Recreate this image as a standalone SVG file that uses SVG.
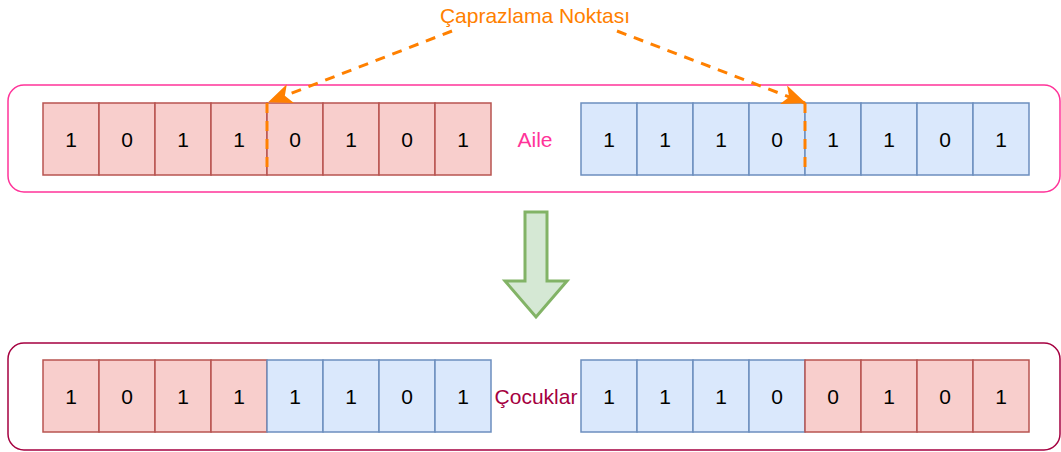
<svg xmlns="http://www.w3.org/2000/svg" width="1061" height="452" viewBox="0 0 1061 452">
<style>
text{font-family:"Liberation Sans",Arial,sans-serif;font-size:21px;text-anchor:middle}
.r{fill:#f8cecc;stroke:#b85450;stroke-width:1.5}
.b{fill:#dae8fc;stroke:#6c8ebf;stroke-width:1.5}
.d{fill:#000}
.o{fill:none;stroke:#FF8000;stroke-width:3;stroke-dasharray:10 8}
</style>
<defs>
<marker id="ah" markerUnits="userSpaceOnUse" viewBox="0 0 24 20" refX="23" refY="10" markerWidth="24" markerHeight="20" orient="auto">
<path d="M0,0 L24,10 L0,20 L6,10 Z" fill="#FF8000"/>
</marker>
</defs>

<g id="parents">
<rect x="8" y="85" width="1052" height="107" rx="16" fill="none" stroke="#FF3399" stroke-width="1.5"/>
<text x="535" y="147" fill="#FF3399">Aile</text>
</g>

<g id="parent1">
<rect class="r" x="43" y="103" width="56" height="72"/>
<rect class="r" x="99" y="103" width="56" height="72"/>
<rect class="r" x="155" y="103" width="56" height="72"/>
<rect class="r" x="211" y="103" width="56" height="72"/>
<rect class="r" x="267" y="103" width="56" height="72"/>
<rect class="r" x="323" y="103" width="56" height="72"/>
<rect class="r" x="379" y="103" width="56" height="72"/>
<rect class="r" x="435" y="103" width="56" height="72"/>
<text class="d" x="71" y="147">1</text>
<text class="d" x="127" y="147">0</text>
<text class="d" x="183" y="147">1</text>
<text class="d" x="239" y="147">1</text>
<text class="d" x="295" y="147">0</text>
<text class="d" x="351" y="147">1</text>
<text class="d" x="407" y="147">0</text>
<text class="d" x="463" y="147">1</text>
</g>

<g id="parent2">
<rect class="b" x="581" y="103" width="56" height="72"/>
<rect class="b" x="637" y="103" width="56" height="72"/>
<rect class="b" x="693" y="103" width="56" height="72"/>
<rect class="b" x="749" y="103" width="56" height="72"/>
<rect class="b" x="805" y="103" width="56" height="72"/>
<rect class="b" x="861" y="103" width="56" height="72"/>
<rect class="b" x="917" y="103" width="56" height="72"/>
<rect class="b" x="973" y="103" width="56" height="72"/>
<text class="d" x="609" y="147">1</text>
<text class="d" x="665" y="147">1</text>
<text class="d" x="721" y="147">1</text>
<text class="d" x="777" y="147">0</text>
<text class="d" x="833" y="147">1</text>
<text class="d" x="889" y="147">1</text>
<text class="d" x="945" y="147">0</text>
<text class="d" x="1001" y="147">1</text>
</g>

<g id="children">
<rect x="8" y="343" width="1052" height="107" rx="16" fill="none" stroke="#A50040" stroke-width="1.5"/>
<text x="536" y="404" fill="#A50040">Çocuklar</text>
</g>

<g id="child1">
<rect class="r" x="43" y="360" width="56" height="72"/>
<rect class="r" x="99" y="360" width="56" height="72"/>
<rect class="r" x="155" y="360" width="56" height="72"/>
<rect class="r" x="211" y="360" width="56" height="72"/>
<rect class="b" x="267" y="360" width="56" height="72"/>
<rect class="b" x="323" y="360" width="56" height="72"/>
<rect class="b" x="379" y="360" width="56" height="72"/>
<rect class="b" x="435" y="360" width="56" height="72"/>
<text class="d" x="71" y="404">1</text>
<text class="d" x="127" y="404">0</text>
<text class="d" x="183" y="404">1</text>
<text class="d" x="239" y="404">1</text>
<text class="d" x="295" y="404">1</text>
<text class="d" x="351" y="404">1</text>
<text class="d" x="407" y="404">0</text>
<text class="d" x="463" y="404">1</text>
</g>

<g id="child2">
<rect class="b" x="581" y="360" width="56" height="72"/>
<rect class="b" x="637" y="360" width="56" height="72"/>
<rect class="b" x="693" y="360" width="56" height="72"/>
<rect class="b" x="749" y="360" width="56" height="72"/>
<rect class="r" x="805" y="360" width="56" height="72"/>
<rect class="r" x="861" y="360" width="56" height="72"/>
<rect class="r" x="917" y="360" width="56" height="72"/>
<rect class="r" x="973" y="360" width="56" height="72"/>
<text class="d" x="609" y="404">1</text>
<text class="d" x="665" y="404">1</text>
<text class="d" x="721" y="404">1</text>
<text class="d" x="777" y="404">0</text>
<text class="d" x="833" y="404">0</text>
<text class="d" x="889" y="404">1</text>
<text class="d" x="945" y="404">0</text>
<text class="d" x="1001" y="404">1</text>
</g>

<g id="crossover-label">
<text x="535" y="23" fill="#FF8000">Çaprazlama Noktası</text>
</g>

<g id="arrow-down">
<polygon points="525,212 547,212 547,281 567,281 536,317 505,281 525,281" fill="#d5e8d4" stroke="#82b366" stroke-width="3" stroke-linejoin="miter"/>
</g>

<g id="connectors">
<line class="o" x1="267" y1="103" x2="267" y2="175"/>
<line class="o" x1="805" y1="103" x2="805" y2="175"/>
<line class="o" x1="452" y1="31" x2="269" y2="102" marker-end="url(#ah)"/>
<line class="o" x1="617" y1="31" x2="805" y2="103" marker-end="url(#ah)"/>
</g>
</svg>
